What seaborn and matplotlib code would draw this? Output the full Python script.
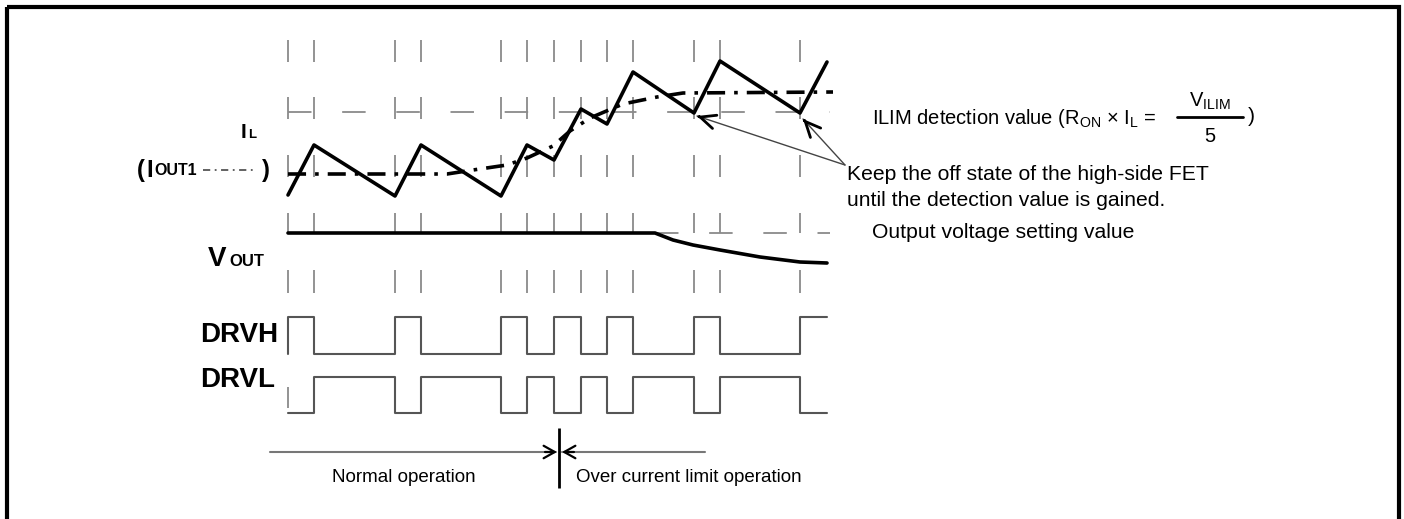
import numpy as np
import pandas as pd
import matplotlib
matplotlib.use("Agg")
import matplotlib.pyplot as plt
import seaborn as sns
from matplotlib.patches import Rectangle

sns.set_style("white")
plt.rcParams["font.family"] = ["Liberation Sans", "DejaVu Sans"]
plt.rcParams["text.color"] = "black"
plt.rcParams["mathtext.fontset"] = "custom"
plt.rcParams["mathtext.rm"] = "Liberation Sans"
plt.rcParams["mathtext.it"] = "Liberation Sans:italic"
plt.rcParams["mathtext.bf"] = "Liberation Sans:bold"

# switching instants (time axis, px units of the diagram)
switch_t = [288, 314, 395, 421, 501, 527, 554, 581, 607, 633, 694, 720, 800]
t_end = 827

# inductor current IL (triangle wave), y in diagram units (down = lower current)
il_t = [288, 314, 395, 421, 501, 527, 554, 581, 607, 633, 694, 720, 800, 827]
il_y = [195, 145, 196, 145, 196, 145, 160, 109, 124, 72, 113, 61, 113, 62]

# average output current IOUT1 (dash-dot)
iout_t = [288, 447, 473, 507, 527, 553, 570, 590, 623, 657, 683, 833]
iout_y = [174, 174, 170, 165, 158, 146, 131, 118, 104, 97, 93, 92]

# output voltage
vout_t = [288, 655, 673, 693, 720, 760, 800, 827]
vout_y = [233, 233, 240, 245, 250, 257, 262, 263]

# gate drive states (1 = high)
drvh_state = [1, 0, 1, 0, 1, 0, 1, 0, 1, 0, 1, 0, 1]
drvl_state = [1 - s for s in drvh_state]

ilim_level = 112
vset_level = 233
guide_rows = [(40, 62), (97, 119), (155, 177), (213, 233), (270, 293)]

fig = plt.figure(figsize=(14.04, 5.19), dpi=100)
ax = fig.add_axes([0, 0, 1, 1])
ax.set_xlim(0, 1404)
ax.set_ylim(519, 0)
ax.axis("off")

guide_c = "#8a8a8a"
wave_c = "#555555"

# frame
ax.add_patch(Rectangle((7, 7), 1392, 530, fill=False, lw=3, ec="black"))

# guide ticks
for lo, hi in guide_rows:
    ax.vlines(switch_t, lo, hi, color=guide_c, lw=1.3)
ax.vlines([288], 387, 408, color=guide_c, lw=1.3)

# reference levels
ax.hlines(ilim_level, 288, 830, color=guide_c, lw=1.3, linestyles=(0, (13, 17)))
ax.hlines(vset_level, 655, 830, color=guide_c, lw=1.3, linestyles=(0, (13, 17)))


def step_frame(states, hi_y, lo_y):
    t = [switch_t[0]] + switch_t + [t_end]
    s = [1 - states[0]] + states + [states[-1]]
    y = [hi_y if v else lo_y for v in s]
    return pd.DataFrame({"t": t, "y": y})


drvh = step_frame(drvh_state, 317, 354)
drvl = step_frame(drvl_state, 377, 413).iloc[1:]
sns.lineplot(data=drvh, x="t", y="y", ax=ax, estimator=None, sort=False,
             drawstyle="steps-post", color=wave_c, lw=1.5)
sns.lineplot(data=drvl, x="t", y="y", ax=ax, estimator=None, sort=False,
             drawstyle="steps-post", color=wave_c, lw=1.5)

iout = pd.DataFrame({"t": iout_t, "y": iout_y})
sns.lineplot(data=iout, x="t", y="y", ax=ax, estimator=None, sort=False,
             color="black", lw=2.6, linestyle=(0, (5, 2.5, 1, 2.5)))
il = pd.DataFrame({"t": il_t, "y": il_y})
sns.lineplot(data=il, x="t", y="y", ax=ax, estimator=None, sort=False,
             color="black", lw=2.6)
vout = pd.DataFrame({"t": vout_t, "y": vout_y})
sns.lineplot(data=vout, x="t", y="y", ax=ax, estimator=None, sort=False,
             color="black", lw=2.6)
ax.set_xlabel("")
ax.set_ylabel("")
ax.set_xlim(0, 1404)
ax.set_ylim(519, 0)

# left signal labels
bold = dict(fontweight="bold", color="black", va="baseline", ha="left")
ax.text(241, 138, "I", fontsize=15, **bold)
ax.text(248.5, 138, "L", fontsize=9.5, **bold)
ax.text(137, 177, "(", fontsize=17, **bold)
ax.text(146, 177, "I", fontsize=17, **bold)
ax.text(154, 175, "OUT1", fontsize=11.5, **bold)
ax.plot([203, 257], [170, 170], color=wave_c, lw=1.3, linestyle=(0, (4, 2.5, 1, 2.5)))
ax.text(262, 177, ")", fontsize=17, **bold)
ax.text(208, 266, "V", fontsize=20, **bold)
ax.text(229, 266, "OUT", fontsize=12, **bold)
ax.text(200, 342, "DRVH", fontsize=20, **bold)
ax.text(200, 387, "DRVL", fontsize=20, **bold)

# right annotations
reg = dict(fontsize=15.2, color="black", va="center", ha="left")
ax.text(872, 118, r"ILIM detection value (R$_{\mathrm{ON}}$ $\times$ I$_{\mathrm{L}}$ =",
        fontsize=14.5, color="black", va="center", ha="left")
ax.plot([1177, 1243], [117, 117], color="black", lw=2)
ax.text(1210, 101, r"V$_{\mathrm{ILIM}}$", fontsize=14.5, ha="center", va="center")
ax.text(1210, 137, "5", fontsize=14.5, ha="center", va="center")
ax.text(1248, 117, ")", **reg)
ax.text(847, 175, "Keep the off state of the high-side FET", **reg)
ax.text(847, 200, "until the detection value is gained.", **reg)
ax.text(872, 233, "Output voltage setting value", **reg)

src = (845, 165)
for tgt in [(697, 116), (803, 119)]:
    ax.annotate("", xy=tgt, xytext=src,
                arrowprops=dict(arrowstyle="-", color="#444444", lw=1, shrinkA=0, shrinkB=0))
    d = np.subtract(src, tgt) / np.hypot(*np.subtract(src, tgt))
    ax.annotate("", xy=tgt, xytext=(tgt[0] + 2 * d[0], tgt[1] + 2 * d[1]),
                arrowprops=dict(arrowstyle="->, head_length=1.1, head_width=0.5",
                                color="black", lw=2, shrinkA=0, shrinkB=0))

# bottom operation ranges
ax.plot([270, 556], [452, 452], color="#777777", lw=1.5)
ax.plot([562, 705], [452, 452], color="#777777", lw=1.5)
for tip, back in [((557, 452), (545, 452)), ((562, 452), (574, 452))]:
    ax.annotate("", xy=tip, xytext=back,
                arrowprops=dict(arrowstyle="->, head_length=0.8, head_width=0.45",
                                color="black", lw=1.6, shrinkA=0, shrinkB=0))
ax.vlines(559, 428, 488, color="black", lw=2)
ax.text(404, 478, "Normal operation", fontsize=13.5, ha="center", va="center")
ax.text(576, 478, "Over current limit operation", fontsize=13.5, ha="left", va="center")

fig.savefig("out.png", dpi=100)
